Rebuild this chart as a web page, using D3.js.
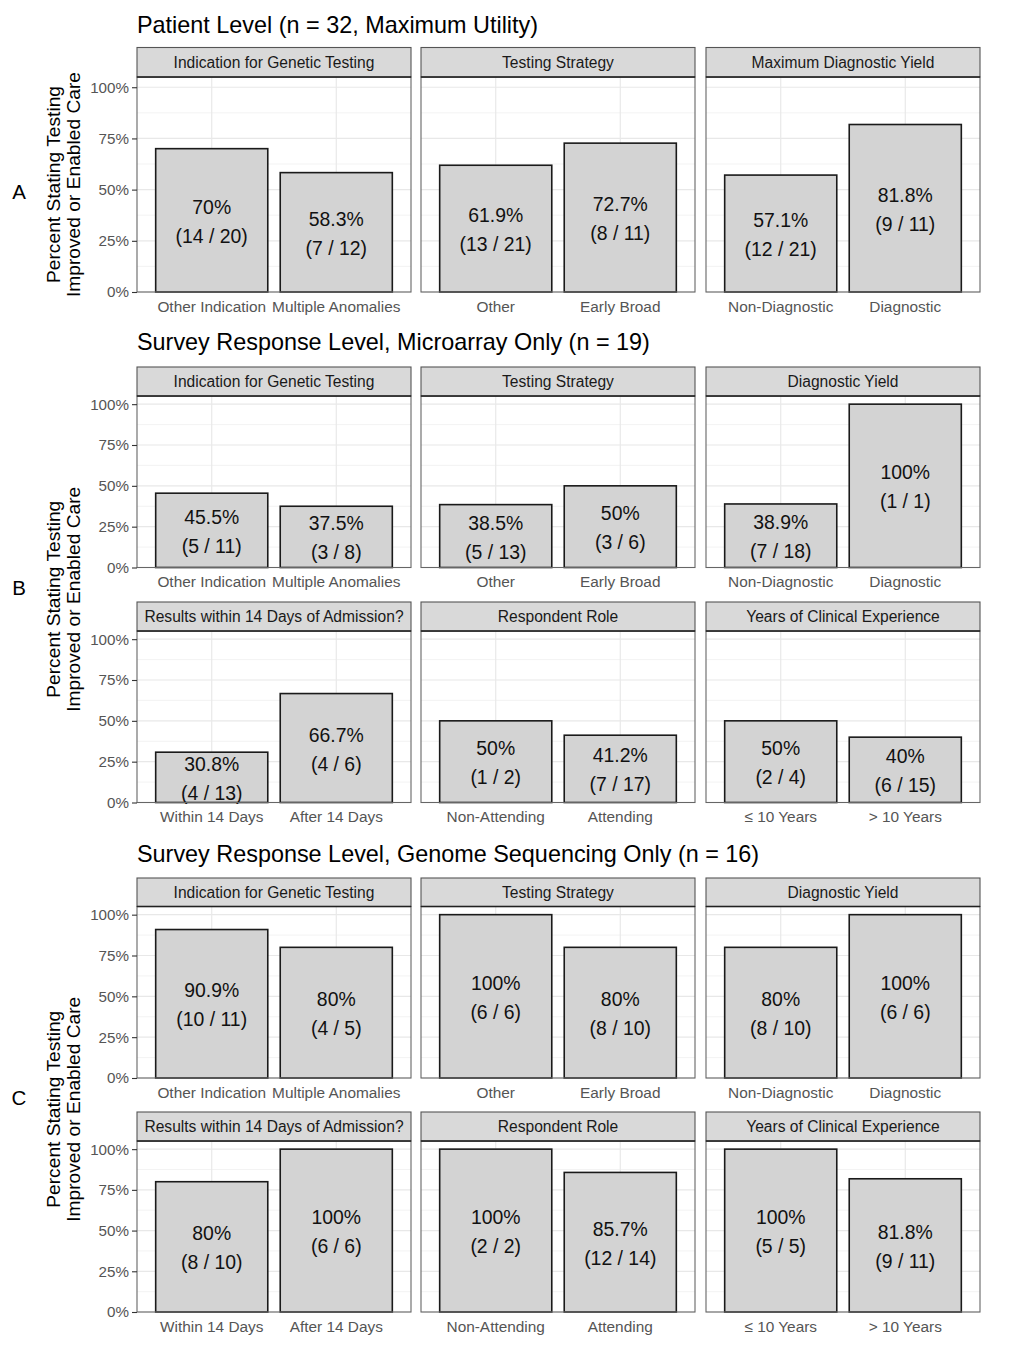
<!DOCTYPE html>
<html>
<head>
<meta charset="utf-8">
<script src="https://cdn.jsdelivr.net/npm/d3@7"></script>
<style>
  body { margin: 0; background: #fff; }
  svg { display: block; font-family: "Liberation Sans", Arial, Helvetica, sans-serif; }
</style>
</head>
<body>
<svg id="chart"></svg>
<script>
// Data =======================================================================

const sectionTitles = [
  "Patient Level (n = 32, Maximum Utility)",
  "Survey Response Level, Microarray Only (n = 19)",
  "Survey Response Level, Genome Sequencing Only (n = 16)"
];
const sectionLetters = ["A", "B", "C"];
const rowSection = [0, 1, 1, 2, 2];

const facetNames = [
  ["Indication for Genetic Testing", "Testing Strategy", "Maximum Diagnostic Yield"],
  ["Indication for Genetic Testing", "Testing Strategy", "Diagnostic Yield"],
  ["Results within 14 Days of Admission?", "Respondent Role", "Years of Clinical Experience"],
  ["Indication for Genetic Testing", "Testing Strategy", "Diagnostic Yield"],
  ["Results within 14 Days of Admission?", "Respondent Role", "Years of Clinical Experience"]
];

const indicationCats = ["Other Indication", "Multiple Anomalies"];
const strategyCats = ["Other", "Early Broad"];
const yieldCats = ["Non-Diagnostic", "Diagnostic"];
const timingCats = ["Within 14 Days", "After 14 Days"];
const roleCats = ["Non-Attending", "Attending"];
const experienceCats = ["\u2264 10 Years", "> 10 Years"];

const categories = [
  [indicationCats, strategyCats, yieldCats],
  [indicationCats, strategyCats, yieldCats],
  [timingCats, roleCats, experienceCats],
  [indicationCats, strategyCats, yieldCats],
  [timingCats, roleCats, experienceCats]
];

const percents = [
  [[70, 58.3], [61.9, 72.7], [57.1, 81.8]],
  [[45.5, 37.5], [38.5, 50], [38.9, 100]],
  [[30.8, 66.7], [50, 41.2], [50, 40]],
  [[90.9, 80], [100, 80], [80, 100]],
  [[80, 100], [100, 85.7], [100, 81.8]]
];

const counts = [
  [["14 / 20", "7 / 12"], ["13 / 21", "8 / 11"], ["12 / 21", "9 / 11"]],
  [["5 / 11", "3 / 8"], ["5 / 13", "3 / 6"], ["7 / 18", "1 / 1"]],
  [["4 / 13", "4 / 6"], ["1 / 2", "7 / 17"], ["2 / 4", "6 / 15"]],
  [["10 / 11", "4 / 5"], ["6 / 6", "8 / 10"], ["8 / 10", "6 / 6"]],
  [["8 / 10", "6 / 6"], ["2 / 2", "12 / 14"], ["5 / 5", "9 / 11"]]
];

const yTicks = [0, 25, 50, 75, 100];
const yMinorTicks = [12.5, 37.5, 62.5, 87.5];
const yTitleLines = ["Percent Stating Testing", "Improved or Enabled Care"];

// Layout =====================================================================

const width = 1011, height = 1356;
const colLeft = [137, 421, 706], panelW = 274;
const stripTop = [47.5, 367, 602, 878, 1112];
const stripBottom = [77, 396, 631, 906.5, 1141];
const panelBottom = [292, 567.5, 802.5, 1078, 1312];
const titleBaseline = [33, 350, 862];
const letterBaseline = [199, 595, 1105];

const svg = d3.select("#chart")
  .attr("width", width)
  .attr("height", height);

svg.append("rect").attr("width", width).attr("height", height).attr("fill", "#fff");

// Section titles, letters, y titles ==========================================

sectionTitles.forEach((t, s) => {
  svg.append("text")
    .attr("x", 137).attr("y", titleBaseline[s])
    .attr("font-size", 23.4).attr("fill", "#000")
    .text(t);

  svg.append("text")
    .attr("x", 19).attr("y", letterBaseline[s])
    .attr("text-anchor", "middle")
    .attr("font-size", 20.5).attr("fill", "#000")
    .text(sectionLetters[s]);

  // y title is centred on the section's panels (strip of first row excluded)
  const rows = rowSection.map((d, i) => d === s ? i : -1).filter(i => i >= 0);
  const cy = (stripBottom[rows[0]] + panelBottom[rows[rows.length - 1]]) / 2;
  yTitleLines.forEach((line, k) => {
    svg.append("text")
      .attr("transform", `translate(${60 + k * 20},${cy}) rotate(-90)`)
      .attr("text-anchor", "middle")
      .attr("font-size", 19.2).attr("fill", "#000")
      .text(line);
  });
});

// Panels =====================================================================

const fmt = d => d + "%";

facetNames.forEach((row, r) => {
  const y = d3.scaleLinear()
    .domain([0, 105])
    .range([panelBottom[r], stripBottom[r]]);

  row.forEach((facet, c) => {
    const x = d3.scaleBand()
      .domain(categories[r][c])
      .range([colLeft[c], colLeft[c] + panelW])
      .paddingInner(0.1)
      .paddingOuter(0.15);

    const g = svg.append("g");

    // grid
    g.selectAll(".minor").data(yMinorTicks).enter().append("line")
      .attr("x1", colLeft[c]).attr("x2", colLeft[c] + panelW)
      .attr("y1", d => y(d)).attr("y2", d => y(d))
      .attr("stroke", "#f0f0f0").attr("stroke-width", 0.8);
    g.selectAll(".major").data(yTicks).enter().append("line")
      .attr("x1", colLeft[c]).attr("x2", colLeft[c] + panelW)
      .attr("y1", d => y(d)).attr("y2", d => y(d))
      .attr("stroke", "#e8e8e8").attr("stroke-width", 1.2);
    g.selectAll(".vgrid").data(categories[r][c]).enter().append("line")
      .attr("x1", d => x(d) + x.bandwidth() / 2).attr("x2", d => x(d) + x.bandwidth() / 2)
      .attr("y1", stripBottom[r]).attr("y2", panelBottom[r])
      .attr("stroke", "#e8e8e8").attr("stroke-width", 1.2);

    const vals = categories[r][c].map((cat, i) => ({
      cat, pct: percents[r][c][i], n: counts[r][c][i]
    }));

    // bars
    g.selectAll(".bar").data(vals).enter().append("rect")
      .attr("x", d => x(d.cat))
      .attr("width", x.bandwidth())
      .attr("y", d => y(d.pct))
      .attr("height", d => y(0) - y(d.pct))
      .attr("fill", "#d3d3d3")
      .attr("stroke", "#1a1a1a")
      .attr("stroke-width", 1.6);

    // bar labels, centred at half the bar height
    const lab = g.selectAll(".lab").data(vals).enter().append("text")
      .attr("text-anchor", "middle")
      .attr("font-size", 19.4)
      .attr("fill", "#111");
    lab.append("tspan")
      .attr("x", d => x(d.cat) + x.bandwidth() / 2)
      .attr("y", d => y(d.pct / 2) - 6.5)
      .text(d => fmt(d.pct));
    lab.append("tspan")
      .attr("x", d => x(d.cat) + x.bandwidth() / 2)
      .attr("y", d => y(d.pct / 2) + 22.5)
      .text(d => `(${d.n})`);

    // panel border
    g.append("rect")
      .attr("x", colLeft[c]).attr("y", stripBottom[r])
      .attr("width", panelW).attr("height", panelBottom[r] - stripBottom[r])
      .attr("fill", "none").attr("stroke", "#666").attr("stroke-width", 1.1);

    // strip
    g.append("rect")
      .attr("x", colLeft[c]).attr("y", stripTop[r])
      .attr("width", panelW).attr("height", stripBottom[r] - stripTop[r])
      .attr("fill", "#d9d9d9").attr("stroke", "#555").attr("stroke-width", 1.1);
    g.append("line")
      .attr("x1", colLeft[c]).attr("x2", colLeft[c] + panelW)
      .attr("y1", stripBottom[r]).attr("y2", stripBottom[r])
      .attr("stroke", "#222").attr("stroke-width", 1.4);
    g.append("text")
      .attr("x", colLeft[c] + panelW / 2)
      .attr("y", (stripTop[r] + stripBottom[r]) / 2 + 5.5)
      .attr("text-anchor", "middle")
      .attr("font-size", 15.6).attr("fill", "#1a1a1a")
      .text(facet);

    // x axis labels
    g.selectAll(".xlab").data(categories[r][c]).enter().append("text")
      .attr("x", d => x(d) + x.bandwidth() / 2)
      .attr("y", panelBottom[r] + 19.5)
      .attr("text-anchor", "middle")
      .attr("font-size", 15.4).attr("fill", "#555")
      .text(d => d);

    // y axis on the first column
    if (c === 0) {
      const yAxis = d3.axisLeft(y)
        .tickValues(yTicks)
        .tickFormat(fmt)
        .tickSize(5)
        .tickPadding(3);
      const ax = svg.append("g")
        .attr("transform", `translate(${colLeft[c]},0)`)
        .call(yAxis);
      ax.select(".domain").remove();
      ax.selectAll(".tick line").attr("stroke", "#333").attr("stroke-width", 1.1);
      ax.selectAll(".tick text")
        .attr("font-size", 15.2)
        .attr("font-family", "Liberation Sans, Arial, sans-serif")
        .attr("fill", "#555");
    }
  });
});
</script>
</body>
</html>
